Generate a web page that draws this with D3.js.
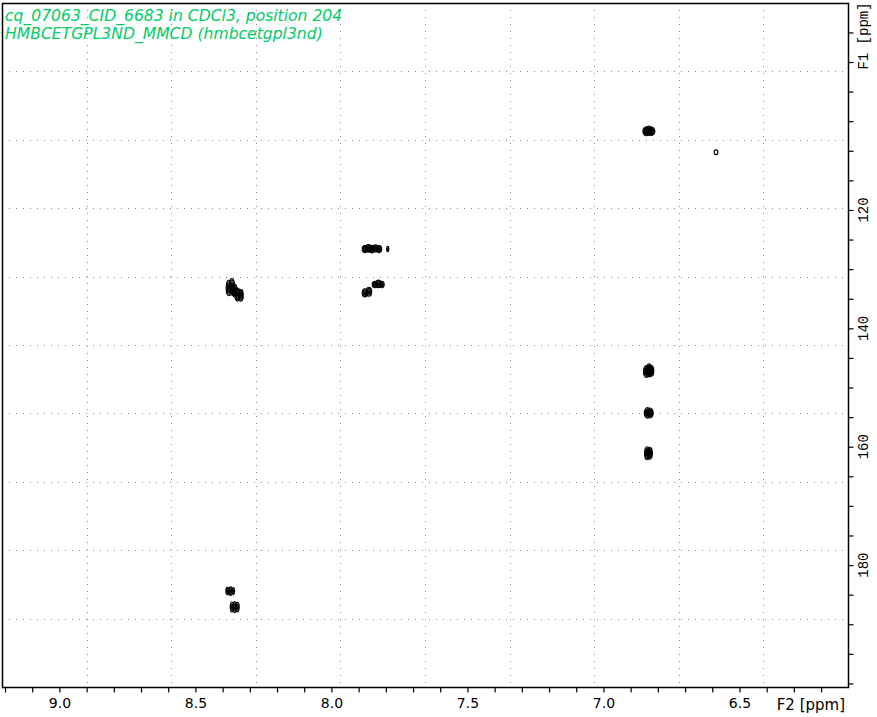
<!DOCTYPE html>
<html>
<head>
<meta charset="utf-8">
<script src="https://cdn.jsdelivr.net/npm/d3@7/dist/d3.min.js"></script>
<style>
  html, body { margin: 0; padding: 0; background: #fff; }
  svg { display: block; }
</style>
</head>
<body>
<svg id="chart" width="877" height="717"></svg>
<script>
// ---- data ----
const titleLines = ["cq_07063_CID_6683 in CDCl3, position 204", "HMBCETGPL3ND_MMCD (hmbcetgpl3nd)"];
const f2Domain = [9.211, 6.101];          // ppm, left -> right
const f1Domain = [85.03, 200.6];          // ppm, top -> bottom
const f2Ticks = d3.range(92, 61, -1).map(v => v / 10);
const f2Labels = [9.0, 8.5, 8.0, 7.5, 7.0, 6.5];
const f1Ticks = d3.range(90, 201, 5);
const f1Labels = [120, 140, 160, 180];
const f2Title = "F2 [ppm]";
const f1Title = "F1 [ppm]";

// cross-peak components (F2 ppm, F1 ppm, half-width F2 ppm, half-height F1 ppm, contour levels)
const peakF2 = [6.843, 6.833, 6.823, 6.586,
                8.377, 8.366, 8.356, 8.345, 8.333,
                7.877, 7.864, 7.851, 7.838, 7.825, 7.793,
                7.877, 7.862,
                7.840, 7.827, 7.814,
                6.842, 6.832, 6.825,
                6.838, 6.828,
                6.839, 6.830,
                8.382, 8.371, 8.361,
                8.366, 8.355, 8.345];
const peakF1 = [106.7, 106.6, 106.7, 110.25,
                133.2, 133.0, 133.6, 134.3, 134.4,
                126.6, 126.5, 126.6, 126.5, 126.6, 126.6,
                134.0, 133.8,
                132.6, 132.5, 132.6,
                147.3, 147.1, 147.2,
                154.3, 154.3,
                161.1, 161.1,
                184.4, 184.4, 184.4,
                187.1, 187.1, 187.1];
const peakW = [0.012, 0.013, 0.012, 0.007,
               0.010, 0.010, 0.009, 0.010, 0.009,
               0.010, 0.010, 0.010, 0.010, 0.010, 0.004,
               0.010, 0.010,
               0.010, 0.010, 0.008,
               0.011, 0.012, 0.010,
               0.012, 0.011,
               0.010, 0.010,
               0.006, 0.007, 0.005,
               0.006, 0.007, 0.006];
const peakH = [0.75, 0.80, 0.70, 0.40,
               1.30, 1.40, 1.10, 1.10, 1.00,
               0.60, 0.65, 0.65, 0.60, 0.60, 0.45,
               0.70, 0.75,
               0.55, 0.65, 0.55,
               1.00, 1.10, 0.90,
               0.90, 0.85,
               1.10, 1.00,
               0.65, 0.75, 0.60,
               0.85, 0.95, 0.80];
const peakLevels = [5, 5, 5, 1,
                    5, 5, 5, 5, 5,
                    4, 4, 4, 4, 4, 2,
                    4, 4,
                    4, 4, 3,
                    5, 5, 5,
                    5, 5,
                    5, 5,
                    3, 4, 3,
                    3, 4, 3];

// ---- layout ----
const svg = d3.select("#chart");
const L = 2, R = 848, T = 3, B = 687;

const x = d3.scaleLinear().domain(f2Domain).range([L, R]);
const y = d3.scaleLinear().domain(f1Domain).range([T, B]);

// grid (10 equal divisions of the frame)
const grid = svg.append("g").attr("stroke", "#8a8a8a").attr("stroke-width", 1)
  .attr("stroke-dasharray", "1,6").attr("fill", "none");
for (let k = 1; k < 10; k++) {
  const gx = Math.round(L + (R - L) * k / 10) + 0.5;
  const gy = Math.round(T + (B - T) * k / 10) + 0.5;
  grid.append("line").attr("x1", gx).attr("x2", gx).attr("y1", T).attr("y2", B);
  grid.append("line").attr("x1", L).attr("x2", R).attr("y1", gy).attr("y2", gy);
}

// peaks
const peaks = peakF2.map((f2, i) => ({f2, f1: peakF1[i], w: peakW[i], h: peakH[i], n: peakLevels[i]}));
const pg = svg.append("g").attr("fill", "none").attr("stroke", "#000").attr("stroke-width", 1.1);
peaks.forEach(p => {
  const cx = x(p.f2), cy = y(p.f1);
  const rx = Math.abs(x(p.f2 + p.w) - cx);
  const ry = Math.abs(y(p.f1 + p.h) - cy);
  for (let k = p.n; k >= 1; k--) {
    pg.append("ellipse").attr("cx", cx).attr("cy", cy)
      .attr("rx", Math.max(0.6, rx * k / p.n)).attr("ry", Math.max(0.6, ry * k / p.n));
  }
});

// frame
svg.append("rect").attr("x", L + 0.5).attr("y", T + 0.5)
  .attr("width", R - L).attr("height", B - T)
  .attr("fill", "none").attr("stroke", "#000").attr("stroke-width", 1.5);

// bottom axis
const xAxis = d3.axisBottom(x).tickValues(f2Ticks).tickSize(5).tickPadding(6)
  .tickFormat(d => f2Labels.some(v => Math.abs(v - d) < 1e-6) ? d3.format(".1f")(d) : "");
const gx = svg.append("g").attr("transform", `translate(0,${B + 0.5})`).call(xAxis);
gx.select(".domain").remove();
gx.selectAll(".tick line").attr("stroke", "#000").attr("stroke-width", 1.2);
gx.selectAll(".tick text").attr("font-family", "DejaVu Sans").attr("font-size", 14).attr("fill", "#000");

svg.append("text").attr("x", 845).attr("y", 710).attr("text-anchor", "end")
  .attr("font-family", "DejaVu Sans").attr("font-size", 15).attr("fill", "#000").text(f2Title);

// right axis
const yAxis = d3.axisRight(y).tickValues(f1Ticks).tickSize(5).tickFormat("");
const gy = svg.append("g").attr("transform", `translate(${R + 0.5},0)`).call(yAxis);
gy.select(".domain").remove();
gy.selectAll(".tick line").attr("stroke", "#000").attr("stroke-width", 1.2);
svg.append("g").selectAll("text").data(f1Labels).enter().append("text")
  .attr("transform", d => `translate(868,${y(d)}) rotate(-90)`)
  .attr("text-anchor", "middle").attr("font-family", "Liberation Mono").attr("font-size", 14)
  .attr("fill", "#000").text(d => d);
svg.append("text").attr("transform", `translate(868,36) rotate(-90)`)
  .attr("text-anchor", "middle").attr("font-family", "Liberation Mono").attr("font-size", 14)
  .attr("fill", "#000").text(f1Title);

// title
svg.append("g").selectAll("text").data(titleLines).enter().append("text")
  .attr("x", 5).attr("y", (d, i) => 21 + i * 17.5)
  .attr("font-family", "DejaVu Sans").attr("font-style", "italic").attr("font-size", 15.6)
  .attr("fill", "#00cc66").text(d => d);
</script>
</body>
</html>
